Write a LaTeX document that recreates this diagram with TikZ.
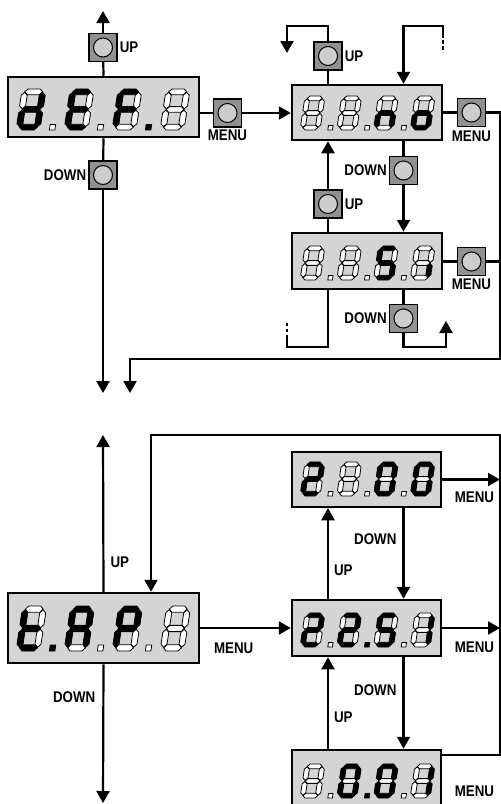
\documentclass[tikz,border=0pt]{standalone}
\usepackage{fontspec}
\newfontfamily\lblfam{Liberation Sans}[FakeStretch=0.86]
\usetikzlibrary{arrows.meta,positioning}
\definecolor{dispgray}{RGB}{212,212,212}
\definecolor{btngray}{RGB}{145,145,145}
\definecolor{knobgray}{RGB}{205,205,205}
\tikzset{
seg0/.style={fill=white,draw=black,line width=0.8pt},
seg1/.style={fill=black,draw=black,line width=0.8pt}}
% one segment: horizontal at height #1, vertical at x=#1 from #2 to #3
\newcommand{\hseg}[2]{\path[seg#2] (1.3,#1) -- (2.5,#1+1.25) -- (7.5,#1+1.25) -- (8.7,#1) -- (7.5,#1-1.25) -- (2.5,#1-1.25) -- cycle;}
\newcommand{\vseg}[4]{\path[seg#4] (#1,#2) -- (#1+1.25,#2+1.25) -- (#1+1.25,#3-1.25) -- (#1,#3) -- (#1-1.25,#3-1.25) -- (#1-1.25,#2+1.25) -- cycle;}
% segments a b c d e f g
\newcommand{\segs}[7]{\hseg{16.75}{#1}\vseg{8.75}{9.3}{16.5}{#2}\vseg{8.75}{1.5}{8.7}{#3}\hseg{1.25}{#4}%
\vseg{1.25}{1.5}{8.7}{#5}\vseg{1.25}{9.3}{16.5}{#6}\hseg{9}{#7}}
\newcommand{\dpt}[1]{\path[seg#1] (13.9,0) rectangle (16.2,2.4);}
\newcommand{\segrow}[4]{%
\begin{scope}[#1]
\foreach \segcode [count=\n from 0] in {#3}
{\begin{scope}[shift={(\n*#2,0)}]\expandafter\segs\segcode\end{scope}}
\foreach \dpon [count=\n from 0] in {#4}
{\begin{scope}[shift={(\n*#2,0)}]\expandafter\dpt\dpon\end{scope}}
\end{scope}}
\begin{document}
\begin{tikzpicture}[x=1pt,y=-1pt,
disp/.style={draw,line width=2.5pt,fill=dispgray,inner sep=0pt},
btn/.style={draw,line width=1.2pt,fill=btngray,minimum size=28pt,inner sep=0pt,
path picture={\draw[line width=1pt,fill=knobgray] (path picture bounding box.center) circle (9.5pt);}},
lbl/.style={font=\lblfam\bfseries\fontsize{15.5}{15.5}\selectfont,inner sep=1pt},
conn/.style={line width=2.2pt},
arrow/.style={conn,-{Triangle[length=12pt,width=13pt]}},
cont/.style={conn,dash pattern=on 3.5pt off 2.5pt}]
\useasboundingbox (0,0) rectangle (501,804);
\coordinate (upx) at (328,0);
\coordinate (dnx) at (403.5,0);
\coordinate (backx) at (151,0);

% default menu
\node[disp,minimum width=191pt,minimum height=60pt] (def) at (103.5,107) {};
\node[btn] (b1up) at (103,47.5) {};
\node[btn] (b1dn) at (103,175) {};
\node[btn] (b1menu) at (227.5,113) {};
\node[lbl,right=1pt of b1up] (l1up) {UP};
\node[lbl,left=1pt of b1dn] (l1dn) {DOWN};
\node[lbl,below=1pt of b1menu] (l1menu) {MENU};
\node[disp,minimum width=150pt,minimum height=55pt] (no) at (367,112.5) {};
\node[btn] (b2up) at (upx |- 0,56) {};
\node[btn] (b2dn) at (dnx |- 0,170.5) {};
\node[btn] (b2menu) at (471.5,112.5) {};
\node[lbl,right=1pt of b2up] (l2up) {UP};
\node[lbl,left=1pt of b2dn] (l2dn) {DOWN};
\node[lbl,below=3pt of b2menu] (l2menu) {MENU};
\node[disp,minimum width=150pt,minimum height=56pt] (si) at (367,261) {};
\node[btn] (b3up) at (upx |- 0,204) {};
\node[btn] (b3dn) at (dnx |- 0,318.5) {};
\node[btn] (b3menu) at (471.5,261.5) {};
\node[lbl,right=1pt of b3up] (l3up) {UP};
\node[lbl,left=1pt of b3dn] (l3dn) {DOWN};
\node[lbl,below=2pt of b3menu] (l3menu) {MENU};

\segrow{shift={(16,130)},xslant=0.15,xscale=2.4,yscale=-2.28}{20}{0111101,1001111,1000111,0000000}{0,0,1}
\segrow{shift={(300,130)},xslant=0.15,xscale=2,yscale=-1.89}{18.35}{0000000,0000000,0010101,0011101}{0,0,0}
\segrow{shift={(300,280)},xslant=0.15,xscale=2,yscale=-1.89}{18.35}{0000000,0000000,1011011,0010000}{0,0,0}

\coordinate (topup) at (103,11);
\coordinate (dnend) at (103,393);
\coordinate (menuend) at (130,393);
\coordinate (wrap1) at (500,359);
\coordinate (ul1) at (287,26);
\coordinate (ul2) at (287,53);
\coordinate (dl1) at (443,26);
\coordinate (dl2) at (443,34);
\coordinate (dl3) at (443,52);
\coordinate (bl1) at (287,347);
\coordinate (bl2) at (287,338);
\coordinate (bl3) at (287,322);
\coordinate (br1) at (446,347);
\coordinate (br2) at (446,321);
\draw[conn] (def.north) -- (b1up);
\draw[arrow] (b1up) -- (topup);
\draw[conn] (def.south) -- (b1dn);
\draw[arrow] (b1dn) -- (dnend);
\draw[conn] (def.east |- b1menu) -- (b1menu);
\draw[arrow] (b1menu) -- (no.west |- b1menu);
\draw[conn] (no.north -| b2up) -- (b2up);
\draw[arrow] (b2up) |- (ul1) -- (ul2);
\draw[cont] (dl2) -- (dl3);
\draw[arrow] (dl2) -- (dl1) -| (no.north -| b2dn);
\draw[conn] (no.east) -- (b2menu);
\draw[arrow] (b2menu) -| (wrap1) -| (menuend);
\draw[conn] (no.south -| b2dn) -- (b2dn);
\draw[arrow] (b2dn) -- (si.north -| b2dn);
\draw[conn] (si.north -| b3up) -- (b3up);
\draw[arrow] (b3up) -- (no.south -| b3up);
\draw[conn] (si.east |- b3menu) -- (b3menu);
\draw[conn] (b3menu) -- (b3menu -| wrap1);
\draw[conn] (si.south -| b3up) |- (bl1) -- (bl2);
\draw[cont] (bl2) -- (bl3);
\draw[conn] (si.south -| b3dn) -- (b3dn);
\draw[arrow] (b3dn) |- (br1) -- (br2);

% time menu
\node[disp,minimum width=191pt,minimum height=70pt] (tap) at (103.5,628) {};
\node[disp,minimum width=149pt,minimum height=55pt] (opt1) at (366.5,479.5) {};
\node[disp,minimum width=149pt,minimum height=56pt] (opt2) at (366.5,628) {};
\node[disp,minimum width=149pt,minimum height=56pt] (opt3) at (366.5,778) {};
\node[lbl] (l5menu) at (474.5,497) {MENU};
\node[lbl] (l6menu) at (474.5,647) {MENU};
\node[lbl] (l7menu) at (474.5,791) {MENU};

\segrow{shift={(16,651)},xslant=0.15,xscale=2.4,yscale=-2.5}{20}{0001111,1110111,1100111,0000000}{1,0,0}
\segrow{shift={(300,496)},xslant=0.15,xscale=2,yscale=-1.89}{18.35}{1101101,0000000,1111110,1111110}{0,0,0}
\segrow{shift={(300,647)},xslant=0.15,xscale=2,yscale=-1.89}{18.35}{1101101,1101101,1011011,0110000}{0,1,0}
\segrow{shift={(300,798)},xslant=0.15,xscale=2,yscale=-1.89}{18.35}{0000000,1111110,1111110,0110000}{0,1,0}

\coordinate (tapup) at (103,435);
\coordinate (tapdn) at (103,803);
\coordinate (wrap2) at (500,435);
\coordinate (wrap3) at (500,755);
\draw[arrow] (tap.north) -- node[lbl,pos=0.19,right=5pt] (l4up) {UP} (tapup);
\draw[arrow] (tap.south) -- node[lbl,pos=0.24,left=6pt] (l4dn) {DOWN} (tapdn);
\draw[arrow] (tap.east) -- node[lbl,pos=0.37,below=13pt] (l4menu) {MENU} (opt2.west);
\draw[arrow] (opt3.east |- wrap3) -- (wrap3) -- (wrap2) -| (tap.north -| backx);
\draw[arrow] (opt1.east) -- (opt1.east -| wrap2);
\draw[arrow] (opt2.east) -- (opt2.east -| wrap2);
\draw[arrow] (opt1.south -| dnx) -- node[lbl,pos=0.34,left=5pt] (l5dn) {DOWN} (opt2.north -| dnx);
\draw[arrow] (opt2.north -| upx) -- node[lbl,pos=0.32,right=4pt] (l6up) {UP} (opt1.south -| upx);
\draw[arrow] (opt2.south -| dnx) -- node[lbl,pos=0.36,left=5pt] (l6dn) {DOWN} (opt3.north -| dnx);
\draw[arrow] (opt3.north -| upx) -- node[lbl,pos=0.34,right=4pt] (l7up) {UP} (opt2.south -| upx);
\end{tikzpicture}
\end{document}
